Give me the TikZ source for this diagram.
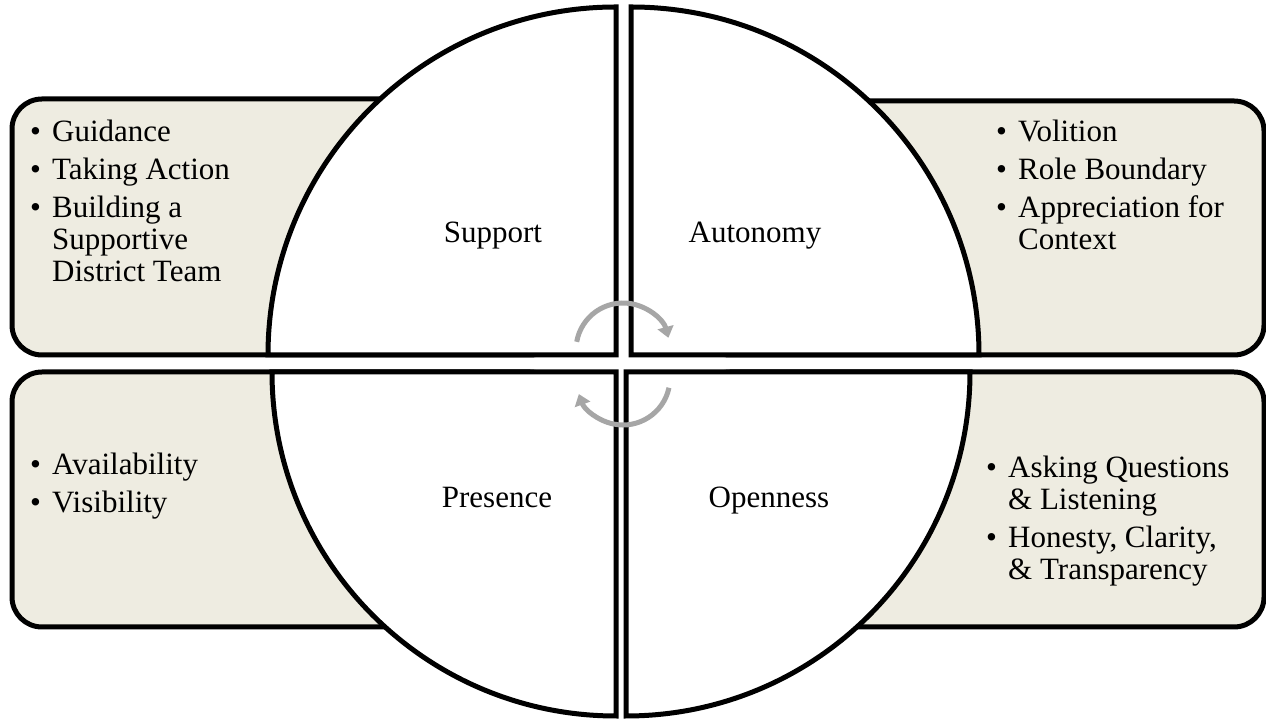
\documentclass[tikz,border=0pt]{standalone}
\usepackage{fontspec}
\setmainfont{Liberation Serif}
\usepackage{tikz}
\usetikzlibrary{arrows.meta}
\usepackage{xcolor}
\definecolor{boxtan}{HTML}{EEECE1}
\definecolor{cyclegray}{HTML}{A6A6A6}
\newcommand{\itm}{\makebox[22pt][l]{\textbullet}}
\newcommand{\ind}{\hspace*{22pt}}

\begin{document}
\begin{tikzpicture}[x=1pt, y=1pt, font=\fontsize{31}{32}\selectfont,
    tanbox/.style={draw, line width=5pt, fill=boxtan, rounded corners=30pt, inner sep=0pt},
    quarter/.style={draw, line width=5pt, fill=white},
    listtext/.style={anchor=base west, inner sep=0pt},
    cyclearrow/.style={draw=cyclegray, line width=5pt, -{Triangle[length=11pt, width=16pt]}}]
  \useasboundingbox (0,0) rectangle (1266,719);
  % boxes behind the circle
  \node[tanbox, minimum width=548pt, minimum height=256pt] (supportbox) at (286,492) {};
  \node[tanbox, minimum width=564pt, minimum height=254pt] (autonomybox) at (982,491) {};
  \node[tanbox, minimum width=548pt, minimum height=255pt] (presencebox) at (286,219.5) {};
  \node[tanbox, minimum width=564pt, minimum height=255pt] (opennessbox) at (982,219.5) {};
  % the four quarters
  \draw[quarter] (616,364) -- (268,364) arc[start angle=180, end angle=90, radius=348pt] -- cycle;
  \draw[quarter] (631,364) -- (631,712) arc[start angle=90, end angle=0, radius=348pt] -- cycle;
  \draw[quarter] (616,347) -- (272,347) arc[start angle=180, end angle=270, radius=344pt] -- cycle;
  \draw[quarter] (626,347) -- (626,3) arc[start angle=270, end angle=360, radius=344pt] -- cycle;
  % quarter labels
  \node[anchor=base] (support) at (493,476) {Support};
  \node[anchor=base] (autonomy) at (755,476) {Autonomy};
  \node[anchor=base] (presence) at (497,211) {Presence};
  \node[anchor=base] (openness) at (769,211) {Openness};
  % bullet lists
  \node[listtext] (supportlist) at (30,577) {\begin{tabular}[t]{@{}l@{}}
      \itm Guidance\\[6pt]
      \itm Taking Action\\[6pt]
      \itm Building a\\
      \ind Supportive\\
      \ind District Team
    \end{tabular}};
  \node[listtext] (autonomylist) at (996,577) {\begin{tabular}[t]{@{}l@{}}
      \itm Volition\\[6pt]
      \itm Role Boundary\\[6pt]
      \itm Appreciation for\\
      \ind Context
    \end{tabular}};
  \node[listtext] (presencelist) at (30,244) {\begin{tabular}[t]{@{}l@{}}
      \itm Availability\\[6pt]
      \itm Visibility
    \end{tabular}};
  \node[listtext] (opennesslist) at (986,241) {\begin{tabular}[t]{@{}l@{}}
      \itm Asking Questions\\
      \ind \& Listening\\[6pt]
      \itm Honesty, Clarity,\\
      \ind \& Transparency
    \end{tabular}};
  % cycle arrows in the middle
  \draw[cyclearrow] (623,369) ++(170:47pt) arc[start angle=170, end angle=15, radius=47pt];
  \draw[cyclearrow] (623,341) ++(-12:47pt) arc[start angle=-12, end angle=-160, radius=47pt];
\end{tikzpicture}
\end{document}
